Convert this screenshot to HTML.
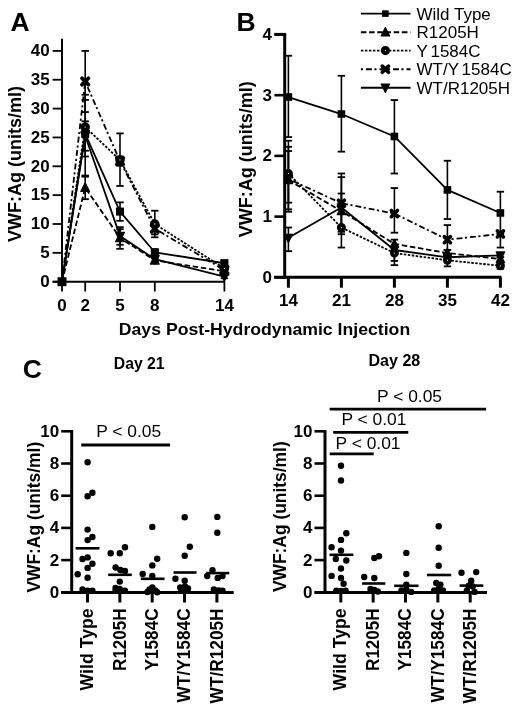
<!DOCTYPE html>
<html><head><meta charset="utf-8"><style>
html,body{margin:0;padding:0;background:#fff;}
svg{display:block;filter:blur(0.35px);}
</style></head><body>
<svg width="520" height="712" viewBox="0 0 520 712">
<rect width="520" height="712" fill="#fff"/>
<g>
<polyline points="62.00,281.70 85.20,133.99 120.00,211.59 154.80,252.27 224.40,263.24" fill="none" stroke="#000" stroke-width="1.8" stroke-linejoin="round"/>
<polyline points="62.00,281.70 85.20,187.65 120.00,237.85 154.80,260.35 224.40,271.31" fill="none" stroke="#000" stroke-width="1.8" stroke-linejoin="round" stroke-dasharray="5.5 2.7"/>
<polyline points="62.00,281.70 85.20,127.06 120.00,159.95 154.80,224.00 224.40,268.43" fill="none" stroke="#000" stroke-width="1.8" stroke-linejoin="round" stroke-dasharray="2.5 1.5"/>
<polyline points="62.00,281.70 85.20,81.48 120.00,161.11 154.80,228.62 224.40,270.16" fill="none" stroke="#000" stroke-width="1.8" stroke-linejoin="round" stroke-dasharray="2.1 3.0 5.9 2.5"/>
<polyline points="62.00,281.70 85.20,135.72 120.00,236.12 154.80,259.20 224.40,276.51" fill="none" stroke="#000" stroke-width="1.8" stroke-linejoin="round"/>
<line x1="85.20" y1="99.94" x2="85.20" y2="150.72" stroke="#000" stroke-width="1.6" stroke-linecap="butt"/>
<line x1="81.50" y1="99.94" x2="88.90" y2="99.94" stroke="#000" stroke-width="1.8" stroke-linecap="butt"/>
<line x1="81.50" y1="150.72" x2="88.90" y2="150.72" stroke="#000" stroke-width="1.8" stroke-linecap="butt"/>
<line x1="120.00" y1="202.36" x2="120.00" y2="220.83" stroke="#000" stroke-width="1.6" stroke-linecap="butt"/>
<line x1="116.30" y1="202.36" x2="123.70" y2="202.36" stroke="#000" stroke-width="1.8" stroke-linecap="butt"/>
<line x1="116.30" y1="220.83" x2="123.70" y2="220.83" stroke="#000" stroke-width="1.8" stroke-linecap="butt"/>
<line x1="154.80" y1="249.39" x2="154.80" y2="255.16" stroke="#000" stroke-width="1.6" stroke-linecap="butt"/>
<line x1="151.10" y1="249.39" x2="158.50" y2="249.39" stroke="#000" stroke-width="1.8" stroke-linecap="butt"/>
<line x1="151.10" y1="255.16" x2="158.50" y2="255.16" stroke="#000" stroke-width="1.8" stroke-linecap="butt"/>
<line x1="224.40" y1="260.35" x2="224.40" y2="266.12" stroke="#000" stroke-width="1.6" stroke-linecap="butt"/>
<line x1="220.70" y1="260.35" x2="228.10" y2="260.35" stroke="#000" stroke-width="1.8" stroke-linecap="butt"/>
<line x1="220.70" y1="266.12" x2="228.10" y2="266.12" stroke="#000" stroke-width="1.8" stroke-linecap="butt"/>
<line x1="85.20" y1="175.53" x2="85.20" y2="199.19" stroke="#000" stroke-width="1.6" stroke-linecap="butt"/>
<line x1="81.50" y1="175.53" x2="88.90" y2="175.53" stroke="#000" stroke-width="1.8" stroke-linecap="butt"/>
<line x1="81.50" y1="199.19" x2="88.90" y2="199.19" stroke="#000" stroke-width="1.8" stroke-linecap="butt"/>
<line x1="120.00" y1="229.19" x2="120.00" y2="248.81" stroke="#000" stroke-width="1.6" stroke-linecap="butt"/>
<line x1="116.30" y1="229.19" x2="123.70" y2="229.19" stroke="#000" stroke-width="1.8" stroke-linecap="butt"/>
<line x1="116.30" y1="248.81" x2="123.70" y2="248.81" stroke="#000" stroke-width="1.8" stroke-linecap="butt"/>
<line x1="154.80" y1="258.04" x2="154.80" y2="262.66" stroke="#000" stroke-width="1.6" stroke-linecap="butt"/>
<line x1="151.10" y1="258.04" x2="158.50" y2="258.04" stroke="#000" stroke-width="1.8" stroke-linecap="butt"/>
<line x1="151.10" y1="262.66" x2="158.50" y2="262.66" stroke="#000" stroke-width="1.8" stroke-linecap="butt"/>
<line x1="224.40" y1="269.58" x2="224.40" y2="273.05" stroke="#000" stroke-width="1.6" stroke-linecap="butt"/>
<line x1="220.70" y1="269.58" x2="228.10" y2="269.58" stroke="#000" stroke-width="1.8" stroke-linecap="butt"/>
<line x1="220.70" y1="273.05" x2="228.10" y2="273.05" stroke="#000" stroke-width="1.8" stroke-linecap="butt"/>
<line x1="85.20" y1="121.29" x2="85.20" y2="156.49" stroke="#000" stroke-width="1.6" stroke-linecap="butt"/>
<line x1="81.50" y1="121.29" x2="88.90" y2="121.29" stroke="#000" stroke-width="1.8" stroke-linecap="butt"/>
<line x1="81.50" y1="156.49" x2="88.90" y2="156.49" stroke="#000" stroke-width="1.8" stroke-linecap="butt"/>
<line x1="120.00" y1="133.41" x2="120.00" y2="185.92" stroke="#000" stroke-width="1.6" stroke-linecap="butt"/>
<line x1="116.30" y1="133.41" x2="123.70" y2="133.41" stroke="#000" stroke-width="1.8" stroke-linecap="butt"/>
<line x1="116.30" y1="185.92" x2="123.70" y2="185.92" stroke="#000" stroke-width="1.8" stroke-linecap="butt"/>
<line x1="154.80" y1="210.73" x2="154.80" y2="237.27" stroke="#000" stroke-width="1.6" stroke-linecap="butt"/>
<line x1="151.10" y1="210.73" x2="158.50" y2="210.73" stroke="#000" stroke-width="1.8" stroke-linecap="butt"/>
<line x1="151.10" y1="237.27" x2="158.50" y2="237.27" stroke="#000" stroke-width="1.8" stroke-linecap="butt"/>
<line x1="224.40" y1="266.12" x2="224.40" y2="270.74" stroke="#000" stroke-width="1.6" stroke-linecap="butt"/>
<line x1="220.70" y1="266.12" x2="228.10" y2="266.12" stroke="#000" stroke-width="1.8" stroke-linecap="butt"/>
<line x1="220.70" y1="270.74" x2="228.10" y2="270.74" stroke="#000" stroke-width="1.8" stroke-linecap="butt"/>
<line x1="85.20" y1="50.90" x2="85.20" y2="112.06" stroke="#000" stroke-width="1.6" stroke-linecap="butt"/>
<line x1="81.50" y1="50.90" x2="88.90" y2="50.90" stroke="#000" stroke-width="1.8" stroke-linecap="butt"/>
<line x1="81.50" y1="112.06" x2="88.90" y2="112.06" stroke="#000" stroke-width="1.8" stroke-linecap="butt"/>
<line x1="120.00" y1="156.49" x2="120.00" y2="165.72" stroke="#000" stroke-width="1.6" stroke-linecap="butt"/>
<line x1="116.30" y1="156.49" x2="123.70" y2="156.49" stroke="#000" stroke-width="1.8" stroke-linecap="butt"/>
<line x1="116.30" y1="165.72" x2="123.70" y2="165.72" stroke="#000" stroke-width="1.8" stroke-linecap="butt"/>
<line x1="154.80" y1="222.85" x2="154.80" y2="234.39" stroke="#000" stroke-width="1.6" stroke-linecap="butt"/>
<line x1="151.10" y1="222.85" x2="158.50" y2="222.85" stroke="#000" stroke-width="1.8" stroke-linecap="butt"/>
<line x1="151.10" y1="234.39" x2="158.50" y2="234.39" stroke="#000" stroke-width="1.8" stroke-linecap="butt"/>
<line x1="224.40" y1="267.85" x2="224.40" y2="272.47" stroke="#000" stroke-width="1.6" stroke-linecap="butt"/>
<line x1="220.70" y1="267.85" x2="228.10" y2="267.85" stroke="#000" stroke-width="1.8" stroke-linecap="butt"/>
<line x1="220.70" y1="272.47" x2="228.10" y2="272.47" stroke="#000" stroke-width="1.8" stroke-linecap="butt"/>
<line x1="85.20" y1="94.75" x2="85.20" y2="176.69" stroke="#000" stroke-width="1.6" stroke-linecap="butt"/>
<line x1="81.50" y1="94.75" x2="88.90" y2="94.75" stroke="#000" stroke-width="1.8" stroke-linecap="butt"/>
<line x1="81.50" y1="176.69" x2="88.90" y2="176.69" stroke="#000" stroke-width="1.8" stroke-linecap="butt"/>
<line x1="120.00" y1="227.17" x2="120.00" y2="244.77" stroke="#000" stroke-width="1.6" stroke-linecap="butt"/>
<line x1="116.30" y1="227.17" x2="123.70" y2="227.17" stroke="#000" stroke-width="1.8" stroke-linecap="butt"/>
<line x1="116.30" y1="244.77" x2="123.70" y2="244.77" stroke="#000" stroke-width="1.8" stroke-linecap="butt"/>
<line x1="154.80" y1="256.31" x2="154.80" y2="262.08" stroke="#000" stroke-width="1.6" stroke-linecap="butt"/>
<line x1="151.10" y1="256.31" x2="158.50" y2="256.31" stroke="#000" stroke-width="1.8" stroke-linecap="butt"/>
<line x1="151.10" y1="262.08" x2="158.50" y2="262.08" stroke="#000" stroke-width="1.8" stroke-linecap="butt"/>
<line x1="224.40" y1="274.78" x2="224.40" y2="278.24" stroke="#000" stroke-width="1.6" stroke-linecap="butt"/>
<line x1="220.70" y1="274.78" x2="228.10" y2="274.78" stroke="#000" stroke-width="1.8" stroke-linecap="butt"/>
<line x1="220.70" y1="278.24" x2="228.10" y2="278.24" stroke="#000" stroke-width="1.8" stroke-linecap="butt"/>
<polygon points="85.20,140.72 89.60,131.97 80.80,131.97" fill="#000" stroke="#000" stroke-width="1.2" stroke-linejoin="round"/>
<polygon points="120.00,241.12 124.40,232.37 115.60,232.37" fill="#000" stroke="#000" stroke-width="1.2" stroke-linejoin="round"/>
<polygon points="154.80,264.20 159.20,255.45 150.40,255.45" fill="#000" stroke="#000" stroke-width="1.2" stroke-linejoin="round"/>
<polygon points="224.40,281.51 228.80,272.76 220.00,272.76" fill="#000" stroke="#000" stroke-width="1.2" stroke-linejoin="round"/>
<path d="M82.00,78.28L88.40,84.68M88.40,78.28L82.00,84.68" stroke="#000" stroke-width="3.80" stroke-linecap="round"/>
<path d="M116.80,157.91L123.20,164.31M123.20,157.91L116.80,164.31" stroke="#000" stroke-width="3.80" stroke-linecap="round"/>
<path d="M151.60,225.42L158.00,231.82M158.00,225.42L151.60,231.82" stroke="#000" stroke-width="3.80" stroke-linecap="round"/>
<path d="M221.20,266.96L227.60,273.36M227.60,266.96L221.20,273.36" stroke="#000" stroke-width="3.80" stroke-linecap="round"/>
<polygon points="85.20,182.65 89.60,191.40 80.80,191.40" fill="#000" stroke="#000" stroke-width="1.2" stroke-linejoin="round"/>
<polygon points="120.00,232.85 124.40,241.60 115.60,241.60" fill="#000" stroke="#000" stroke-width="1.2" stroke-linejoin="round"/>
<polygon points="154.80,255.35 159.20,264.10 150.40,264.10" fill="#000" stroke="#000" stroke-width="1.2" stroke-linejoin="round"/>
<polygon points="224.40,266.31 228.80,275.06 220.00,275.06" fill="#000" stroke="#000" stroke-width="1.2" stroke-linejoin="round"/>
<circle cx="85.20" cy="127.06" r="2.70" fill="#fff" stroke="#000" stroke-width="4.10"/>
<circle cx="120.00" cy="159.95" r="2.70" fill="#fff" stroke="#000" stroke-width="4.10"/>
<circle cx="154.80" cy="224.00" r="2.70" fill="#fff" stroke="#000" stroke-width="4.10"/>
<circle cx="224.40" cy="268.43" r="2.70" fill="#fff" stroke="#000" stroke-width="4.10"/>
<rect x="57.52" y="277.22" width="8.96" height="8.96" fill="#000"/>
<rect x="81.20" y="129.99" width="8.00" height="8.00" fill="#000"/>
<rect x="116.00" y="207.59" width="8.00" height="8.00" fill="#000"/>
<rect x="150.80" y="248.27" width="8.00" height="8.00" fill="#000"/>
<rect x="220.40" y="259.24" width="8.00" height="8.00" fill="#000"/>
<line x1="62.00" y1="38.70" x2="62.00" y2="282.70" stroke="#000" stroke-width="2.0" stroke-linecap="butt"/>
<line x1="52.60" y1="281.70" x2="224.40" y2="281.70" stroke="#000" stroke-width="2.0" stroke-linecap="butt"/>
<line x1="52.60" y1="281.70" x2="62.00" y2="281.70" stroke="#000" stroke-width="1.8" stroke-linecap="butt"/>
<text x="49.70" y="287.00" font-size="17" font-family="Liberation Sans, sans-serif" font-weight="bold" text-anchor="end">0</text>
<line x1="52.60" y1="252.85" x2="62.00" y2="252.85" stroke="#000" stroke-width="1.8" stroke-linecap="butt"/>
<text x="49.70" y="258.15" font-size="17" font-family="Liberation Sans, sans-serif" font-weight="bold" text-anchor="end">5</text>
<line x1="52.60" y1="224.00" x2="62.00" y2="224.00" stroke="#000" stroke-width="1.8" stroke-linecap="butt"/>
<text x="49.70" y="229.30" font-size="17" font-family="Liberation Sans, sans-serif" font-weight="bold" text-anchor="end">10</text>
<line x1="52.60" y1="195.15" x2="62.00" y2="195.15" stroke="#000" stroke-width="1.8" stroke-linecap="butt"/>
<text x="49.70" y="200.45" font-size="17" font-family="Liberation Sans, sans-serif" font-weight="bold" text-anchor="end">15</text>
<line x1="52.60" y1="166.30" x2="62.00" y2="166.30" stroke="#000" stroke-width="1.8" stroke-linecap="butt"/>
<text x="49.70" y="171.60" font-size="17" font-family="Liberation Sans, sans-serif" font-weight="bold" text-anchor="end">20</text>
<line x1="52.60" y1="137.45" x2="62.00" y2="137.45" stroke="#000" stroke-width="1.8" stroke-linecap="butt"/>
<text x="49.70" y="142.75" font-size="17" font-family="Liberation Sans, sans-serif" font-weight="bold" text-anchor="end">25</text>
<line x1="52.60" y1="108.60" x2="62.00" y2="108.60" stroke="#000" stroke-width="1.8" stroke-linecap="butt"/>
<text x="49.70" y="113.90" font-size="17" font-family="Liberation Sans, sans-serif" font-weight="bold" text-anchor="end">30</text>
<line x1="52.60" y1="79.75" x2="62.00" y2="79.75" stroke="#000" stroke-width="1.8" stroke-linecap="butt"/>
<text x="49.70" y="85.05" font-size="17" font-family="Liberation Sans, sans-serif" font-weight="bold" text-anchor="end">35</text>
<line x1="52.60" y1="50.90" x2="62.00" y2="50.90" stroke="#000" stroke-width="1.8" stroke-linecap="butt"/>
<text x="49.70" y="56.20" font-size="17" font-family="Liberation Sans, sans-serif" font-weight="bold" text-anchor="end">40</text>
<line x1="62.00" y1="281.70" x2="62.00" y2="291.50" stroke="#000" stroke-width="1.8" stroke-linecap="butt"/>
<text x="62.00" y="310.80" font-size="17" font-family="Liberation Sans, sans-serif" font-weight="bold" text-anchor="middle">0</text>
<line x1="85.20" y1="281.70" x2="85.20" y2="291.50" stroke="#000" stroke-width="1.8" stroke-linecap="butt"/>
<text x="85.20" y="310.80" font-size="17" font-family="Liberation Sans, sans-serif" font-weight="bold" text-anchor="middle">2</text>
<line x1="120.00" y1="281.70" x2="120.00" y2="291.50" stroke="#000" stroke-width="1.8" stroke-linecap="butt"/>
<text x="120.00" y="310.80" font-size="17" font-family="Liberation Sans, sans-serif" font-weight="bold" text-anchor="middle">5</text>
<line x1="154.80" y1="281.70" x2="154.80" y2="291.50" stroke="#000" stroke-width="1.8" stroke-linecap="butt"/>
<text x="154.80" y="310.80" font-size="17" font-family="Liberation Sans, sans-serif" font-weight="bold" text-anchor="middle">8</text>
<line x1="224.40" y1="281.70" x2="224.40" y2="291.50" stroke="#000" stroke-width="1.8" stroke-linecap="butt"/>
<text x="224.40" y="310.80" font-size="17" font-family="Liberation Sans, sans-serif" font-weight="bold" text-anchor="middle">14</text>
</g>
<text x="21.10" y="163.90" font-size="18" font-family="Liberation Sans, sans-serif" font-weight="bold" text-anchor="middle" transform="rotate(-90 21.10 163.90)">VWF:Ag (units/ml)</text>
<text x="20.00" y="31.20" font-size="26.5" font-family="Liberation Sans, sans-serif" font-weight="bold" text-anchor="middle">A</text>
<polyline points="288.40,97.02 341.40,114.02 394.40,136.48 447.40,189.89 500.40,212.96" fill="none" stroke="#000" stroke-width="1.8" stroke-linejoin="round"/>
<polyline points="288.40,180.18 341.40,211.14 394.40,243.92 447.40,253.02 500.40,259.09" fill="none" stroke="#000" stroke-width="1.8" stroke-linejoin="round" stroke-dasharray="5.5 2.7"/>
<polyline points="288.40,173.50 341.40,227.53 394.40,253.02 447.40,260.30 500.40,265.77" fill="none" stroke="#000" stroke-width="1.8" stroke-linejoin="round" stroke-dasharray="2.5 1.5"/>
<polyline points="288.40,178.97 341.40,203.25 394.40,213.56 447.40,239.67 500.40,233.90" fill="none" stroke="#000" stroke-width="1.8" stroke-linejoin="round" stroke-dasharray="2.1 3.0 5.9 2.5"/>
<polyline points="288.40,237.84 341.40,207.50 394.40,249.99 447.40,257.27 500.40,255.45" fill="none" stroke="#000" stroke-width="1.8" stroke-linejoin="round"/>
<line x1="288.40" y1="55.75" x2="288.40" y2="137.08" stroke="#000" stroke-width="1.6" stroke-linecap="butt"/>
<line x1="284.70" y1="55.75" x2="292.10" y2="55.75" stroke="#000" stroke-width="1.8" stroke-linecap="butt"/>
<line x1="284.70" y1="137.08" x2="292.10" y2="137.08" stroke="#000" stroke-width="1.8" stroke-linecap="butt"/>
<line x1="341.40" y1="75.78" x2="341.40" y2="151.65" stroke="#000" stroke-width="1.6" stroke-linecap="butt"/>
<line x1="337.70" y1="75.78" x2="345.10" y2="75.78" stroke="#000" stroke-width="1.8" stroke-linecap="butt"/>
<line x1="337.70" y1="151.65" x2="345.10" y2="151.65" stroke="#000" stroke-width="1.8" stroke-linecap="butt"/>
<line x1="394.40" y1="100.06" x2="394.40" y2="173.50" stroke="#000" stroke-width="1.6" stroke-linecap="butt"/>
<line x1="390.70" y1="100.06" x2="398.10" y2="100.06" stroke="#000" stroke-width="1.8" stroke-linecap="butt"/>
<line x1="390.70" y1="173.50" x2="398.10" y2="173.50" stroke="#000" stroke-width="1.8" stroke-linecap="butt"/>
<line x1="447.40" y1="160.76" x2="447.40" y2="219.03" stroke="#000" stroke-width="1.6" stroke-linecap="butt"/>
<line x1="443.70" y1="160.76" x2="451.10" y2="160.76" stroke="#000" stroke-width="1.8" stroke-linecap="butt"/>
<line x1="443.70" y1="219.03" x2="451.10" y2="219.03" stroke="#000" stroke-width="1.8" stroke-linecap="butt"/>
<line x1="500.40" y1="191.71" x2="500.40" y2="234.20" stroke="#000" stroke-width="1.6" stroke-linecap="butt"/>
<line x1="496.70" y1="191.71" x2="504.10" y2="191.71" stroke="#000" stroke-width="1.8" stroke-linecap="butt"/>
<line x1="496.70" y1="234.20" x2="504.10" y2="234.20" stroke="#000" stroke-width="1.8" stroke-linecap="butt"/>
<line x1="288.40" y1="151.04" x2="288.40" y2="209.32" stroke="#000" stroke-width="1.6" stroke-linecap="butt"/>
<line x1="284.70" y1="151.04" x2="292.10" y2="151.04" stroke="#000" stroke-width="1.8" stroke-linecap="butt"/>
<line x1="284.70" y1="209.32" x2="292.10" y2="209.32" stroke="#000" stroke-width="1.8" stroke-linecap="butt"/>
<line x1="341.40" y1="177.15" x2="341.40" y2="247.56" stroke="#000" stroke-width="1.6" stroke-linecap="butt"/>
<line x1="337.70" y1="177.15" x2="345.10" y2="177.15" stroke="#000" stroke-width="1.8" stroke-linecap="butt"/>
<line x1="337.70" y1="247.56" x2="345.10" y2="247.56" stroke="#000" stroke-width="1.8" stroke-linecap="butt"/>
<line x1="394.40" y1="239.67" x2="394.40" y2="260.91" stroke="#000" stroke-width="1.6" stroke-linecap="butt"/>
<line x1="390.70" y1="239.67" x2="398.10" y2="239.67" stroke="#000" stroke-width="1.8" stroke-linecap="butt"/>
<line x1="390.70" y1="260.91" x2="398.10" y2="260.91" stroke="#000" stroke-width="1.8" stroke-linecap="butt"/>
<line x1="447.40" y1="249.99" x2="447.40" y2="256.06" stroke="#000" stroke-width="1.6" stroke-linecap="butt"/>
<line x1="443.70" y1="249.99" x2="451.10" y2="249.99" stroke="#000" stroke-width="1.8" stroke-linecap="butt"/>
<line x1="443.70" y1="256.06" x2="451.10" y2="256.06" stroke="#000" stroke-width="1.8" stroke-linecap="butt"/>
<line x1="500.40" y1="257.27" x2="500.40" y2="260.91" stroke="#000" stroke-width="1.6" stroke-linecap="butt"/>
<line x1="496.70" y1="257.27" x2="504.10" y2="257.27" stroke="#000" stroke-width="1.8" stroke-linecap="butt"/>
<line x1="496.70" y1="260.91" x2="504.10" y2="260.91" stroke="#000" stroke-width="1.8" stroke-linecap="butt"/>
<line x1="288.40" y1="140.72" x2="288.40" y2="202.64" stroke="#000" stroke-width="1.6" stroke-linecap="butt"/>
<line x1="284.70" y1="140.72" x2="292.10" y2="140.72" stroke="#000" stroke-width="1.8" stroke-linecap="butt"/>
<line x1="284.70" y1="202.64" x2="292.10" y2="202.64" stroke="#000" stroke-width="1.8" stroke-linecap="butt"/>
<line x1="341.40" y1="193.53" x2="341.40" y2="231.78" stroke="#000" stroke-width="1.6" stroke-linecap="butt"/>
<line x1="337.70" y1="193.53" x2="345.10" y2="193.53" stroke="#000" stroke-width="1.8" stroke-linecap="butt"/>
<line x1="337.70" y1="231.78" x2="345.10" y2="231.78" stroke="#000" stroke-width="1.8" stroke-linecap="butt"/>
<line x1="394.40" y1="249.99" x2="394.40" y2="265.16" stroke="#000" stroke-width="1.6" stroke-linecap="butt"/>
<line x1="390.70" y1="249.99" x2="398.10" y2="249.99" stroke="#000" stroke-width="1.8" stroke-linecap="butt"/>
<line x1="390.70" y1="265.16" x2="398.10" y2="265.16" stroke="#000" stroke-width="1.8" stroke-linecap="butt"/>
<line x1="447.40" y1="259.09" x2="447.40" y2="266.37" stroke="#000" stroke-width="1.6" stroke-linecap="butt"/>
<line x1="443.70" y1="259.09" x2="451.10" y2="259.09" stroke="#000" stroke-width="1.8" stroke-linecap="butt"/>
<line x1="443.70" y1="266.37" x2="451.10" y2="266.37" stroke="#000" stroke-width="1.8" stroke-linecap="butt"/>
<line x1="500.40" y1="263.95" x2="500.40" y2="268.80" stroke="#000" stroke-width="1.6" stroke-linecap="butt"/>
<line x1="496.70" y1="263.95" x2="504.10" y2="263.95" stroke="#000" stroke-width="1.8" stroke-linecap="butt"/>
<line x1="496.70" y1="268.80" x2="504.10" y2="268.80" stroke="#000" stroke-width="1.8" stroke-linecap="butt"/>
<line x1="288.40" y1="146.80" x2="288.40" y2="211.74" stroke="#000" stroke-width="1.6" stroke-linecap="butt"/>
<line x1="284.70" y1="146.80" x2="292.10" y2="146.80" stroke="#000" stroke-width="1.8" stroke-linecap="butt"/>
<line x1="284.70" y1="211.74" x2="292.10" y2="211.74" stroke="#000" stroke-width="1.8" stroke-linecap="butt"/>
<line x1="341.40" y1="173.50" x2="341.40" y2="234.20" stroke="#000" stroke-width="1.6" stroke-linecap="butt"/>
<line x1="337.70" y1="173.50" x2="345.10" y2="173.50" stroke="#000" stroke-width="1.8" stroke-linecap="butt"/>
<line x1="337.70" y1="234.20" x2="345.10" y2="234.20" stroke="#000" stroke-width="1.8" stroke-linecap="butt"/>
<line x1="394.40" y1="188.07" x2="394.40" y2="232.69" stroke="#000" stroke-width="1.6" stroke-linecap="butt"/>
<line x1="390.70" y1="188.07" x2="398.10" y2="188.07" stroke="#000" stroke-width="1.8" stroke-linecap="butt"/>
<line x1="390.70" y1="232.69" x2="398.10" y2="232.69" stroke="#000" stroke-width="1.8" stroke-linecap="butt"/>
<line x1="447.40" y1="225.10" x2="447.40" y2="249.99" stroke="#000" stroke-width="1.6" stroke-linecap="butt"/>
<line x1="443.70" y1="225.10" x2="451.10" y2="225.10" stroke="#000" stroke-width="1.8" stroke-linecap="butt"/>
<line x1="443.70" y1="249.99" x2="451.10" y2="249.99" stroke="#000" stroke-width="1.8" stroke-linecap="butt"/>
<line x1="500.40" y1="233.60" x2="500.40" y2="247.56" stroke="#000" stroke-width="1.6" stroke-linecap="butt"/>
<line x1="496.70" y1="233.60" x2="504.10" y2="233.60" stroke="#000" stroke-width="1.8" stroke-linecap="butt"/>
<line x1="496.70" y1="247.56" x2="504.10" y2="247.56" stroke="#000" stroke-width="1.8" stroke-linecap="butt"/>
<line x1="288.40" y1="227.53" x2="288.40" y2="251.20" stroke="#000" stroke-width="1.6" stroke-linecap="butt"/>
<line x1="284.70" y1="227.53" x2="292.10" y2="227.53" stroke="#000" stroke-width="1.8" stroke-linecap="butt"/>
<line x1="284.70" y1="251.20" x2="292.10" y2="251.20" stroke="#000" stroke-width="1.8" stroke-linecap="butt"/>
<line x1="394.40" y1="246.95" x2="394.40" y2="253.02" stroke="#000" stroke-width="1.6" stroke-linecap="butt"/>
<line x1="390.70" y1="246.95" x2="398.10" y2="246.95" stroke="#000" stroke-width="1.8" stroke-linecap="butt"/>
<line x1="390.70" y1="253.02" x2="398.10" y2="253.02" stroke="#000" stroke-width="1.8" stroke-linecap="butt"/>
<line x1="447.40" y1="255.45" x2="447.40" y2="259.09" stroke="#000" stroke-width="1.6" stroke-linecap="butt"/>
<line x1="443.70" y1="255.45" x2="451.10" y2="255.45" stroke="#000" stroke-width="1.8" stroke-linecap="butt"/>
<line x1="443.70" y1="259.09" x2="451.10" y2="259.09" stroke="#000" stroke-width="1.8" stroke-linecap="butt"/>
<line x1="500.40" y1="254.23" x2="500.40" y2="257.27" stroke="#000" stroke-width="1.6" stroke-linecap="butt"/>
<line x1="496.70" y1="254.23" x2="504.10" y2="254.23" stroke="#000" stroke-width="1.8" stroke-linecap="butt"/>
<line x1="496.70" y1="257.27" x2="504.10" y2="257.27" stroke="#000" stroke-width="1.8" stroke-linecap="butt"/>
<polygon points="288.40,242.59 292.58,234.28 284.22,234.28" fill="#000" stroke="#000" stroke-width="1.2" stroke-linejoin="round"/>
<polygon points="341.40,212.25 345.58,203.93 337.22,203.93" fill="#000" stroke="#000" stroke-width="1.2" stroke-linejoin="round"/>
<polygon points="394.40,254.74 398.58,246.42 390.22,246.42" fill="#000" stroke="#000" stroke-width="1.2" stroke-linejoin="round"/>
<polygon points="447.40,262.02 451.58,253.71 443.22,253.71" fill="#000" stroke="#000" stroke-width="1.2" stroke-linejoin="round"/>
<polygon points="500.40,260.20 504.58,251.89 496.22,251.89" fill="#000" stroke="#000" stroke-width="1.2" stroke-linejoin="round"/>
<path d="M285.36,175.93L291.44,182.01M291.44,175.93L285.36,182.01" stroke="#000" stroke-width="3.61" stroke-linecap="round"/>
<path d="M338.36,200.21L344.44,206.29M344.44,200.21L338.36,206.29" stroke="#000" stroke-width="3.61" stroke-linecap="round"/>
<path d="M391.36,210.53L397.44,216.60M397.44,210.53L391.36,216.60" stroke="#000" stroke-width="3.61" stroke-linecap="round"/>
<path d="M444.36,236.63L450.44,242.71M450.44,236.63L444.36,242.71" stroke="#000" stroke-width="3.61" stroke-linecap="round"/>
<path d="M497.36,230.86L503.44,236.94M503.44,230.86L497.36,236.94" stroke="#000" stroke-width="3.61" stroke-linecap="round"/>
<polygon points="288.40,175.43 292.58,183.74 284.22,183.74" fill="#000" stroke="#000" stroke-width="1.2" stroke-linejoin="round"/>
<polygon points="341.40,206.39 345.58,214.70 337.22,214.70" fill="#000" stroke="#000" stroke-width="1.2" stroke-linejoin="round"/>
<polygon points="394.40,239.17 398.58,247.48 390.22,247.48" fill="#000" stroke="#000" stroke-width="1.2" stroke-linejoin="round"/>
<polygon points="447.40,248.27 451.58,256.58 443.22,256.58" fill="#000" stroke="#000" stroke-width="1.2" stroke-linejoin="round"/>
<polygon points="500.40,254.34 504.58,262.65 496.22,262.65" fill="#000" stroke="#000" stroke-width="1.2" stroke-linejoin="round"/>
<circle cx="288.40" cy="173.50" r="2.56" fill="#fff" stroke="#000" stroke-width="3.89"/>
<circle cx="341.40" cy="227.53" r="2.56" fill="#fff" stroke="#000" stroke-width="3.89"/>
<circle cx="394.40" cy="253.02" r="2.56" fill="#fff" stroke="#000" stroke-width="3.89"/>
<circle cx="447.40" cy="260.30" r="2.56" fill="#fff" stroke="#000" stroke-width="3.89"/>
<circle cx="500.40" cy="265.77" r="2.56" fill="#fff" stroke="#000" stroke-width="3.89"/>
<rect x="284.60" y="93.22" width="7.60" height="7.60" fill="#000"/>
<rect x="337.60" y="110.22" width="7.60" height="7.60" fill="#000"/>
<rect x="390.60" y="132.68" width="7.60" height="7.60" fill="#000"/>
<rect x="443.60" y="186.09" width="7.60" height="7.60" fill="#000"/>
<rect x="496.60" y="209.16" width="7.60" height="7.60" fill="#000"/>
<line x1="284.70" y1="34.40" x2="284.70" y2="278.80" stroke="#000" stroke-width="3.0" stroke-linecap="butt"/>
<line x1="274.20" y1="277.30" x2="501.40" y2="277.30" stroke="#000" stroke-width="3.0" stroke-linecap="butt"/>
<line x1="274.40" y1="34.40" x2="286.20" y2="34.40" stroke="#000" stroke-width="3.0" stroke-linecap="butt"/>
<line x1="274.40" y1="277.30" x2="284.70" y2="277.30" stroke="#000" stroke-width="2.6" stroke-linecap="butt"/>
<text x="271.90" y="282.60" font-size="17" font-family="Liberation Sans, sans-serif" font-weight="bold" text-anchor="end">0</text>
<line x1="274.40" y1="216.60" x2="284.70" y2="216.60" stroke="#000" stroke-width="2.6" stroke-linecap="butt"/>
<text x="271.90" y="221.90" font-size="17" font-family="Liberation Sans, sans-serif" font-weight="bold" text-anchor="end">1</text>
<line x1="274.40" y1="155.90" x2="284.70" y2="155.90" stroke="#000" stroke-width="2.6" stroke-linecap="butt"/>
<text x="271.90" y="161.20" font-size="17" font-family="Liberation Sans, sans-serif" font-weight="bold" text-anchor="end">2</text>
<line x1="274.40" y1="95.20" x2="284.70" y2="95.20" stroke="#000" stroke-width="2.6" stroke-linecap="butt"/>
<text x="271.90" y="100.50" font-size="17" font-family="Liberation Sans, sans-serif" font-weight="bold" text-anchor="end">3</text>
<line x1="274.40" y1="34.50" x2="284.70" y2="34.50" stroke="#000" stroke-width="2.6" stroke-linecap="butt"/>
<text x="271.90" y="39.80" font-size="17" font-family="Liberation Sans, sans-serif" font-weight="bold" text-anchor="end">4</text>
<line x1="288.40" y1="277.30" x2="288.40" y2="287.70" stroke="#000" stroke-width="3.0" stroke-linecap="butt"/>
<text x="288.40" y="305.80" font-size="17" font-family="Liberation Sans, sans-serif" font-weight="bold" text-anchor="middle">14</text>
<line x1="341.40" y1="277.30" x2="341.40" y2="287.70" stroke="#000" stroke-width="3.0" stroke-linecap="butt"/>
<text x="341.40" y="305.80" font-size="17" font-family="Liberation Sans, sans-serif" font-weight="bold" text-anchor="middle">21</text>
<line x1="394.40" y1="277.30" x2="394.40" y2="287.70" stroke="#000" stroke-width="3.0" stroke-linecap="butt"/>
<text x="394.40" y="305.80" font-size="17" font-family="Liberation Sans, sans-serif" font-weight="bold" text-anchor="middle">28</text>
<line x1="447.40" y1="277.30" x2="447.40" y2="287.70" stroke="#000" stroke-width="3.0" stroke-linecap="butt"/>
<text x="447.40" y="305.80" font-size="17" font-family="Liberation Sans, sans-serif" font-weight="bold" text-anchor="middle">35</text>
<line x1="500.40" y1="277.30" x2="500.40" y2="287.70" stroke="#000" stroke-width="3.0" stroke-linecap="butt"/>
<text x="500.40" y="305.80" font-size="17" font-family="Liberation Sans, sans-serif" font-weight="bold" text-anchor="middle">42</text>
<text x="251.80" y="159.30" font-size="18" font-family="Liberation Sans, sans-serif" font-weight="bold" text-anchor="middle" transform="rotate(-90 251.80 159.30)">VWF:Ag (units/ml)</text>
<text x="246.00" y="31.20" font-size="26.5" font-family="Liberation Sans, sans-serif" font-weight="bold" text-anchor="middle">B</text>
<text x="118.80" y="334.70" font-size="17" font-family="Liberation Sans, sans-serif" font-weight="bold" text-anchor="start" textLength="291.4" lengthAdjust="spacingAndGlyphs">Days Post-Hydrodynamic Injection</text>
<line x1="360.90" y1="13.60" x2="410.50" y2="13.60" stroke="#000" stroke-width="1.9" stroke-linecap="butt"/>
<rect x="382.12" y="10.32" width="6.56" height="6.56" fill="#000"/>
<text x="416.50" y="19.70" font-size="17" font-family="Liberation Sans, sans-serif" text-anchor="start">Wild Type</text>
<line x1="360.90" y1="32.30" x2="410.50" y2="32.30" stroke="#000" stroke-width="1.9" stroke-linecap="butt" stroke-dasharray="5.5 2.7"/>
<polygon points="385.40,27.45 389.67,35.94 381.13,35.94" fill="#000" stroke="#000" stroke-width="1.2" stroke-linejoin="round"/>
<text x="416.50" y="38.40" font-size="17" font-family="Liberation Sans, sans-serif" text-anchor="start">R1205H</text>
<line x1="360.90" y1="50.60" x2="410.50" y2="50.60" stroke="#000" stroke-width="1.9" stroke-linecap="butt" stroke-dasharray="2.5 1.5"/>
<circle cx="385.40" cy="50.60" r="2.62" fill="#fff" stroke="#000" stroke-width="3.98"/>
<text x="416.50" y="56.70" font-size="17" font-family="Liberation Sans, sans-serif" text-anchor="start">Y<tspan dx="2.6">1584C</tspan></text>
<line x1="360.90" y1="69.20" x2="410.50" y2="69.20" stroke="#000" stroke-width="1.9" stroke-linecap="butt" stroke-dasharray="2.1 3.0 5.9 2.5"/>
<path d="M382.30,66.10L388.50,72.30M388.50,66.10L382.30,72.30" stroke="#000" stroke-width="3.69" stroke-linecap="round"/>
<text x="416.50" y="75.30" font-size="17" font-family="Liberation Sans, sans-serif" text-anchor="start">WT/Y<tspan dx="2.6">1584C</tspan></text>
<line x1="360.90" y1="87.70" x2="410.50" y2="87.70" stroke="#000" stroke-width="1.9" stroke-linecap="butt"/>
<polygon points="385.40,92.55 389.67,84.06 381.13,84.06" fill="#000" stroke="#000" stroke-width="1.2" stroke-linejoin="round"/>
<text x="416.50" y="93.80" font-size="17" font-family="Liberation Sans, sans-serif" text-anchor="start">WT/R1205H</text>
<line x1="71.70" y1="430.00" x2="71.70" y2="594.00" stroke="#000" stroke-width="3.0" stroke-linecap="butt"/>
<line x1="61.20" y1="592.60" x2="233.70" y2="592.60" stroke="#000" stroke-width="3.0" stroke-linecap="butt"/>
<line x1="61.20" y1="592.30" x2="71.70" y2="592.30" stroke="#000" stroke-width="2.6" stroke-linecap="butt"/>
<text x="59.10" y="597.70" font-size="17" font-family="Liberation Sans, sans-serif" font-weight="bold" text-anchor="end">0</text>
<line x1="61.20" y1="560.10" x2="71.70" y2="560.10" stroke="#000" stroke-width="2.6" stroke-linecap="butt"/>
<text x="59.10" y="565.50" font-size="17" font-family="Liberation Sans, sans-serif" font-weight="bold" text-anchor="end">2</text>
<line x1="61.20" y1="527.90" x2="71.70" y2="527.90" stroke="#000" stroke-width="2.6" stroke-linecap="butt"/>
<text x="59.10" y="533.30" font-size="17" font-family="Liberation Sans, sans-serif" font-weight="bold" text-anchor="end">4</text>
<line x1="61.20" y1="495.70" x2="71.70" y2="495.70" stroke="#000" stroke-width="2.6" stroke-linecap="butt"/>
<text x="59.10" y="501.10" font-size="17" font-family="Liberation Sans, sans-serif" font-weight="bold" text-anchor="end">6</text>
<line x1="61.20" y1="463.50" x2="71.70" y2="463.50" stroke="#000" stroke-width="2.6" stroke-linecap="butt"/>
<text x="59.10" y="468.90" font-size="17" font-family="Liberation Sans, sans-serif" font-weight="bold" text-anchor="end">8</text>
<line x1="61.20" y1="431.30" x2="71.70" y2="431.30" stroke="#000" stroke-width="2.6" stroke-linecap="butt"/>
<text x="59.10" y="436.70" font-size="17" font-family="Liberation Sans, sans-serif" font-weight="bold" text-anchor="end">10</text>
<line x1="87.50" y1="592.60" x2="87.50" y2="602.50" stroke="#000" stroke-width="3.0" stroke-linecap="butt"/>
<text x="93.20" y="608.40" font-size="17.5" font-family="Liberation Sans, sans-serif" font-weight="bold" text-anchor="end" textLength="82.0" lengthAdjust="spacingAndGlyphs" transform="rotate(-90 93.20 608.40)">Wild Type</text>
<line x1="119.85" y1="592.60" x2="119.85" y2="602.50" stroke="#000" stroke-width="3.0" stroke-linecap="butt"/>
<text x="125.55" y="608.40" font-size="17.5" font-family="Liberation Sans, sans-serif" font-weight="bold" text-anchor="end" textLength="62.5" lengthAdjust="spacingAndGlyphs" transform="rotate(-90 125.55 608.40)">R1205H</text>
<line x1="152.20" y1="592.60" x2="152.20" y2="602.50" stroke="#000" stroke-width="3.0" stroke-linecap="butt"/>
<text x="157.90" y="608.40" font-size="17.5" font-family="Liberation Sans, sans-serif" font-weight="bold" text-anchor="end" textLength="62.0" lengthAdjust="spacingAndGlyphs" transform="rotate(-90 157.90 608.40)">Y1584C</text>
<line x1="184.55" y1="592.60" x2="184.55" y2="602.50" stroke="#000" stroke-width="3.0" stroke-linecap="butt"/>
<text x="190.25" y="608.40" font-size="17.5" font-family="Liberation Sans, sans-serif" font-weight="bold" text-anchor="end" textLength="94.0" lengthAdjust="spacingAndGlyphs" transform="rotate(-90 190.25 608.40)">WT/Y1584C</text>
<line x1="216.90" y1="592.60" x2="216.90" y2="602.50" stroke="#000" stroke-width="3.0" stroke-linecap="butt"/>
<text x="222.60" y="608.40" font-size="17.5" font-family="Liberation Sans, sans-serif" font-weight="bold" text-anchor="end" textLength="95.0" lengthAdjust="spacingAndGlyphs" transform="rotate(-90 222.60 608.40)">WT/R1205H</text>
<circle cx="87.60" cy="462.20" r="3.20" fill="#000"/>
<circle cx="87.60" cy="496.30" r="3.20" fill="#000"/>
<circle cx="92.40" cy="492.70" r="3.20" fill="#000"/>
<circle cx="87.60" cy="529.60" r="3.20" fill="#000"/>
<circle cx="92.40" cy="537.00" r="3.20" fill="#000"/>
<circle cx="87.60" cy="540.10" r="3.20" fill="#000"/>
<circle cx="82.50" cy="559.00" r="3.20" fill="#000"/>
<circle cx="87.60" cy="557.40" r="3.20" fill="#000"/>
<circle cx="92.40" cy="563.70" r="3.20" fill="#000"/>
<circle cx="87.60" cy="567.90" r="3.20" fill="#000"/>
<circle cx="77.70" cy="574.20" r="3.20" fill="#000"/>
<circle cx="87.60" cy="577.80" r="3.20" fill="#000"/>
<circle cx="82.50" cy="589.40" r="3.20" fill="#000"/>
<circle cx="87.60" cy="590.60" r="3.20" fill="#000"/>
<circle cx="92.40" cy="590.60" r="3.20" fill="#000"/>
<circle cx="125.00" cy="547.30" r="3.20" fill="#000"/>
<circle cx="110.70" cy="553.20" r="3.20" fill="#000"/>
<circle cx="119.80" cy="553.20" r="3.20" fill="#000"/>
<circle cx="115.60" cy="567.50" r="3.20" fill="#000"/>
<circle cx="120.40" cy="570.00" r="3.20" fill="#000"/>
<circle cx="125.00" cy="571.00" r="3.20" fill="#000"/>
<circle cx="119.80" cy="581.60" r="3.20" fill="#000"/>
<circle cx="115.60" cy="587.90" r="3.20" fill="#000"/>
<circle cx="119.80" cy="589.00" r="3.20" fill="#000"/>
<circle cx="125.00" cy="590.60" r="3.20" fill="#000"/>
<circle cx="115.60" cy="590.60" r="3.20" fill="#000"/>
<circle cx="152.30" cy="526.90" r="3.20" fill="#000"/>
<circle cx="157.20" cy="558.70" r="3.20" fill="#000"/>
<circle cx="152.30" cy="565.40" r="3.20" fill="#000"/>
<circle cx="142.70" cy="574.00" r="3.20" fill="#000"/>
<circle cx="152.30" cy="576.00" r="3.20" fill="#000"/>
<circle cx="149.50" cy="589.40" r="3.20" fill="#000"/>
<circle cx="152.30" cy="587.50" r="3.20" fill="#000"/>
<circle cx="155.20" cy="590.40" r="3.20" fill="#000"/>
<circle cx="147.50" cy="592.00" r="3.20" fill="#000"/>
<circle cx="157.20" cy="592.30" r="3.20" fill="#000"/>
<circle cx="184.70" cy="517.30" r="3.20" fill="#000"/>
<circle cx="189.80" cy="546.70" r="3.20" fill="#000"/>
<circle cx="184.70" cy="555.80" r="3.20" fill="#000"/>
<circle cx="175.40" cy="578.80" r="3.20" fill="#000"/>
<circle cx="184.70" cy="580.80" r="3.20" fill="#000"/>
<circle cx="180.20" cy="587.50" r="3.20" fill="#000"/>
<circle cx="185.00" cy="586.50" r="3.20" fill="#000"/>
<circle cx="188.00" cy="588.50" r="3.20" fill="#000"/>
<circle cx="181.20" cy="590.40" r="3.20" fill="#000"/>
<circle cx="187.00" cy="590.40" r="3.20" fill="#000"/>
<circle cx="217.30" cy="516.90" r="3.20" fill="#000"/>
<circle cx="217.30" cy="532.70" r="3.20" fill="#000"/>
<circle cx="212.50" cy="570.20" r="3.20" fill="#000"/>
<circle cx="207.20" cy="576.00" r="3.20" fill="#000"/>
<circle cx="217.70" cy="577.90" r="3.20" fill="#000"/>
<circle cx="222.50" cy="576.00" r="3.20" fill="#000"/>
<circle cx="213.90" cy="589.40" r="3.20" fill="#000"/>
<circle cx="218.70" cy="590.40" r="3.20" fill="#000"/>
<circle cx="222.50" cy="590.80" r="3.20" fill="#000"/>
<line x1="75.60" y1="548.30" x2="99.40" y2="548.30" stroke="#000" stroke-width="2.6" stroke-linecap="butt"/>
<line x1="108.20" y1="574.80" x2="131.80" y2="574.80" stroke="#000" stroke-width="2.6" stroke-linecap="butt"/>
<line x1="140.80" y1="578.80" x2="164.50" y2="578.80" stroke="#000" stroke-width="2.6" stroke-linecap="butt"/>
<line x1="173.50" y1="572.50" x2="196.60" y2="572.50" stroke="#000" stroke-width="2.6" stroke-linecap="butt"/>
<line x1="206.20" y1="573.10" x2="229.30" y2="573.10" stroke="#000" stroke-width="2.6" stroke-linecap="butt"/>
<line x1="81.25" y1="445.00" x2="170.00" y2="445.00" stroke="#000" stroke-width="2.8" stroke-linecap="butt"/>
<text x="96.25" y="437.00" font-size="17.4" font-family="Liberation Sans, sans-serif" text-anchor="start">P &lt; 0.05</text>
<text x="40.10" y="517.20" font-size="18" font-family="Liberation Sans, sans-serif" font-weight="bold" text-anchor="middle" textLength="150.8" lengthAdjust="spacingAndGlyphs" transform="rotate(-90 40.10 517.20)">VWF:Ag (units/ml)</text>
<text x="113.80" y="368.50" font-size="16" font-family="Liberation Sans, sans-serif" font-weight="bold" text-anchor="start" textLength="50.8" lengthAdjust="spacingAndGlyphs">Day 21</text>
<text x="32.40" y="377.60" font-size="26.5" font-family="Liberation Sans, sans-serif" font-weight="bold" text-anchor="middle">C</text>
<line x1="325.00" y1="430.00" x2="325.00" y2="594.00" stroke="#000" stroke-width="3.0" stroke-linecap="butt"/>
<line x1="314.50" y1="592.60" x2="487.00" y2="592.60" stroke="#000" stroke-width="3.0" stroke-linecap="butt"/>
<line x1="314.50" y1="592.30" x2="325.00" y2="592.30" stroke="#000" stroke-width="2.6" stroke-linecap="butt"/>
<text x="312.40" y="597.70" font-size="17" font-family="Liberation Sans, sans-serif" font-weight="bold" text-anchor="end">0</text>
<line x1="314.50" y1="560.10" x2="325.00" y2="560.10" stroke="#000" stroke-width="2.6" stroke-linecap="butt"/>
<text x="312.40" y="565.50" font-size="17" font-family="Liberation Sans, sans-serif" font-weight="bold" text-anchor="end">2</text>
<line x1="314.50" y1="527.90" x2="325.00" y2="527.90" stroke="#000" stroke-width="2.6" stroke-linecap="butt"/>
<text x="312.40" y="533.30" font-size="17" font-family="Liberation Sans, sans-serif" font-weight="bold" text-anchor="end">4</text>
<line x1="314.50" y1="495.70" x2="325.00" y2="495.70" stroke="#000" stroke-width="2.6" stroke-linecap="butt"/>
<text x="312.40" y="501.10" font-size="17" font-family="Liberation Sans, sans-serif" font-weight="bold" text-anchor="end">6</text>
<line x1="314.50" y1="463.50" x2="325.00" y2="463.50" stroke="#000" stroke-width="2.6" stroke-linecap="butt"/>
<text x="312.40" y="468.90" font-size="17" font-family="Liberation Sans, sans-serif" font-weight="bold" text-anchor="end">8</text>
<line x1="314.50" y1="431.30" x2="325.00" y2="431.30" stroke="#000" stroke-width="2.6" stroke-linecap="butt"/>
<text x="312.40" y="436.70" font-size="17" font-family="Liberation Sans, sans-serif" font-weight="bold" text-anchor="end">10</text>
<line x1="340.80" y1="592.60" x2="340.80" y2="602.50" stroke="#000" stroke-width="3.0" stroke-linecap="butt"/>
<text x="346.50" y="608.40" font-size="17.5" font-family="Liberation Sans, sans-serif" font-weight="bold" text-anchor="end" textLength="82.0" lengthAdjust="spacingAndGlyphs" transform="rotate(-90 346.50 608.40)">Wild Type</text>
<line x1="373.15" y1="592.60" x2="373.15" y2="602.50" stroke="#000" stroke-width="3.0" stroke-linecap="butt"/>
<text x="378.85" y="608.40" font-size="17.5" font-family="Liberation Sans, sans-serif" font-weight="bold" text-anchor="end" textLength="62.5" lengthAdjust="spacingAndGlyphs" transform="rotate(-90 378.85 608.40)">R1205H</text>
<line x1="405.50" y1="592.60" x2="405.50" y2="602.50" stroke="#000" stroke-width="3.0" stroke-linecap="butt"/>
<text x="411.20" y="608.40" font-size="17.5" font-family="Liberation Sans, sans-serif" font-weight="bold" text-anchor="end" textLength="62.0" lengthAdjust="spacingAndGlyphs" transform="rotate(-90 411.20 608.40)">Y1584C</text>
<line x1="437.85" y1="592.60" x2="437.85" y2="602.50" stroke="#000" stroke-width="3.0" stroke-linecap="butt"/>
<text x="443.55" y="608.40" font-size="17.5" font-family="Liberation Sans, sans-serif" font-weight="bold" text-anchor="end" textLength="94.0" lengthAdjust="spacingAndGlyphs" transform="rotate(-90 443.55 608.40)">WT/Y1584C</text>
<line x1="470.20" y1="592.60" x2="470.20" y2="602.50" stroke="#000" stroke-width="3.0" stroke-linecap="butt"/>
<text x="475.90" y="608.40" font-size="17.5" font-family="Liberation Sans, sans-serif" font-weight="bold" text-anchor="end" textLength="95.0" lengthAdjust="spacingAndGlyphs" transform="rotate(-90 475.90 608.40)">WT/R1205H</text>
<circle cx="341.00" cy="465.80" r="3.20" fill="#000"/>
<circle cx="341.00" cy="480.50" r="3.20" fill="#000"/>
<circle cx="346.30" cy="533.20" r="3.20" fill="#000"/>
<circle cx="341.00" cy="539.90" r="3.20" fill="#000"/>
<circle cx="331.60" cy="547.30" r="3.20" fill="#000"/>
<circle cx="341.00" cy="550.60" r="3.20" fill="#000"/>
<circle cx="335.80" cy="559.00" r="3.20" fill="#000"/>
<circle cx="346.30" cy="560.50" r="3.20" fill="#000"/>
<circle cx="341.00" cy="568.50" r="3.20" fill="#000"/>
<circle cx="331.60" cy="575.90" r="3.20" fill="#000"/>
<circle cx="341.00" cy="578.00" r="3.20" fill="#000"/>
<circle cx="343.60" cy="583.70" r="3.20" fill="#000"/>
<circle cx="336.40" cy="590.60" r="3.20" fill="#000"/>
<circle cx="341.00" cy="591.00" r="3.20" fill="#000"/>
<circle cx="345.60" cy="590.60" r="3.20" fill="#000"/>
<circle cx="374.30" cy="558.00" r="3.20" fill="#000"/>
<circle cx="379.00" cy="556.30" r="3.20" fill="#000"/>
<circle cx="364.20" cy="577.00" r="3.20" fill="#000"/>
<circle cx="374.30" cy="578.00" r="3.20" fill="#000"/>
<circle cx="370.50" cy="589.00" r="3.20" fill="#000"/>
<circle cx="374.30" cy="590.00" r="3.20" fill="#000"/>
<circle cx="377.80" cy="591.50" r="3.20" fill="#000"/>
<circle cx="406.30" cy="552.90" r="3.20" fill="#000"/>
<circle cx="406.30" cy="574.00" r="3.20" fill="#000"/>
<circle cx="406.30" cy="584.60" r="3.20" fill="#000"/>
<circle cx="401.50" cy="590.40" r="3.20" fill="#000"/>
<circle cx="406.30" cy="589.40" r="3.20" fill="#000"/>
<circle cx="411.20" cy="591.90" r="3.20" fill="#000"/>
<circle cx="438.70" cy="526.30" r="3.20" fill="#000"/>
<circle cx="438.70" cy="547.70" r="3.20" fill="#000"/>
<circle cx="438.70" cy="565.80" r="3.20" fill="#000"/>
<circle cx="436.20" cy="583.00" r="3.20" fill="#000"/>
<circle cx="440.40" cy="584.60" r="3.20" fill="#000"/>
<circle cx="434.20" cy="590.40" r="3.20" fill="#000"/>
<circle cx="442.90" cy="590.40" r="3.20" fill="#000"/>
<circle cx="439.00" cy="588.50" r="3.20" fill="#000"/>
<circle cx="461.50" cy="572.70" r="3.20" fill="#000"/>
<circle cx="476.20" cy="572.10" r="3.20" fill="#000"/>
<circle cx="471.20" cy="580.80" r="3.20" fill="#000"/>
<circle cx="468.80" cy="585.60" r="3.20" fill="#000"/>
<circle cx="472.70" cy="586.50" r="3.20" fill="#000"/>
<circle cx="466.90" cy="590.40" r="3.20" fill="#000"/>
<circle cx="474.60" cy="591.90" r="3.20" fill="#000"/>
<line x1="329.50" y1="554.80" x2="353.30" y2="554.80" stroke="#000" stroke-width="2.6" stroke-linecap="butt"/>
<line x1="362.10" y1="583.50" x2="385.30" y2="583.50" stroke="#000" stroke-width="2.6" stroke-linecap="butt"/>
<line x1="394.20" y1="585.80" x2="418.50" y2="585.80" stroke="#000" stroke-width="2.6" stroke-linecap="butt"/>
<line x1="426.90" y1="575.00" x2="451.20" y2="575.00" stroke="#000" stroke-width="2.6" stroke-linecap="butt"/>
<line x1="459.60" y1="585.60" x2="483.30" y2="585.60" stroke="#000" stroke-width="2.6" stroke-linecap="butt"/>
<line x1="329.70" y1="409.10" x2="486.10" y2="409.10" stroke="#000" stroke-width="2.8" stroke-linecap="butt"/>
<text x="377.10" y="401.80" font-size="17.4" font-family="Liberation Sans, sans-serif" text-anchor="start">P &lt; 0.05</text>
<line x1="333.20" y1="432.30" x2="408.30" y2="432.30" stroke="#000" stroke-width="2.8" stroke-linecap="butt"/>
<text x="341.50" y="425.40" font-size="17.4" font-family="Liberation Sans, sans-serif" text-anchor="start">P &lt; 0.01</text>
<line x1="329.70" y1="453.80" x2="373.70" y2="453.80" stroke="#000" stroke-width="2.8" stroke-linecap="butt"/>
<text x="335.60" y="448.90" font-size="17.4" font-family="Liberation Sans, sans-serif" text-anchor="start">P &lt; 0.01</text>
<text x="285.60" y="516.70" font-size="18" font-family="Liberation Sans, sans-serif" font-weight="bold" text-anchor="middle" textLength="150.8" lengthAdjust="spacingAndGlyphs" transform="rotate(-90 285.60 516.70)">VWF:Ag (units/ml)</text>
<text x="368.50" y="366.20" font-size="16" font-family="Liberation Sans, sans-serif" font-weight="bold" text-anchor="start" textLength="51.8" lengthAdjust="spacingAndGlyphs">Day 28</text>
</svg>
</body></html>
